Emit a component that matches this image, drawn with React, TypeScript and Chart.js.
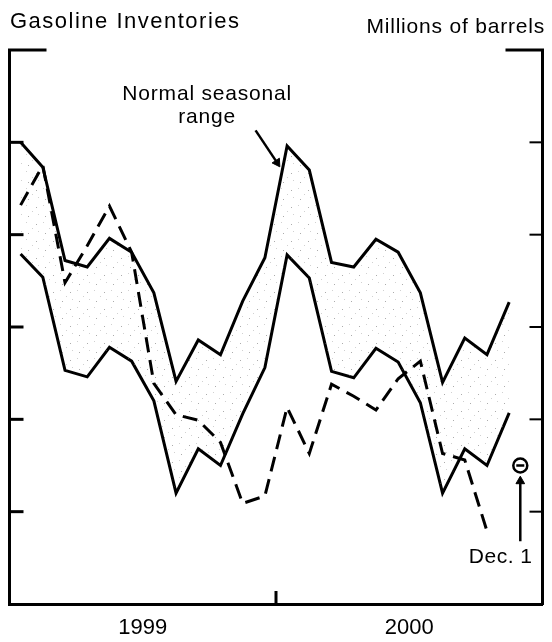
import React, { useEffect, useRef } from 'react';
import { Chart, registerables } from 'chart.js';

Chart.register(...registerables);

// ---- Data (millions of barrels; monthly, mid-month positions) ----
const monthLabels = [
  'Jan 1999', 'Feb 1999', 'Mar 1999', 'Apr 1999', 'May 1999', 'Jun 1999',
  'Jul 1999', 'Aug 1999', 'Sep 1999', 'Oct 1999', 'Nov 1999', 'Dec 1999',
  'Jan 2000', 'Feb 2000', 'Mar 2000', 'Apr 2000', 'May 2000', 'Jun 2000',
  'Jul 2000', 'Aug 2000', 'Sep 2000', 'Oct 2000', 'Nov 2000',
];
const upperRange = [
  230.0, 227.3, 217.2, 216.5, 219.6, 218.1, 213.7, 204.1, 208.6, 207.0, 212.8, 217.5,
  229.6, 227.0, 217.0, 216.5, 219.5, 218.1, 213.7, 204.0, 208.8, 207.0, 212.7,
];
const lowerRange = [
  217.9, 215.4, 205.3, 204.6, 207.8, 206.3, 202.0, 192.0, 196.8, 195.0, 200.6, 205.6,
  217.8, 215.3, 205.2, 204.5, 207.7, 206.2, 201.8, 192.0, 196.8, 195.0, 200.7,
];
const actualStocks = [
  223.2, 227.5, 214.8, 218.8, 223.1, 218.1, 203.9, 200.5, 199.9, 197.5, 190.9, 191.7,
  201.3, 196.3, 203.8, 202.5, 201.0, 204.4, 206.3, 196.3, 195.6, 187.9,
];
const yearLabels = ['1999', '2000'];
const yearCenters = [6, 18];
const yearBoundary = 12;
const yMin = 180;
const yMax = 240;
const yStep = 10;
const xMax = 24;

// Dec. 1 marker (months since Jan 1999, value)
const decPoint = { x: 23, y: 195.0 };
const decArrow = [{ x: 23, y: 186.8 }, { x: 23, y: 193.3 }];
const decLabel = { text: 'Dec. 1', x: 23.55, y: 184.4 };
// "Normal seasonal range" annotation
const rangeArrow = [{ x: 11.08, y: 231.3 }, { x: 12.05, y: 227.8 }];
const rangeLabel = { lines: ['Normal seasonal', 'range'], x: 8.9, y: [234.6, 232.1] };

const titleText = 'Gasoline Inventories';
const unitText = 'Millions of barrels';

const FONT = '"Liberation Sans", Arial, Helvetica, sans-serif';

function makeStipple(): CanvasPattern | string {
  const c = document.createElement('canvas');
  c.width = 17;
  c.height = 17;
  const g = c.getContext('2d');
  if (!g) return 'rgba(0,0,0,0.02)';
  g.fillStyle = 'rgba(90,90,90,0.5)';
  g.fillRect(2, 3, 1, 1);
  g.fillRect(11, 12, 1, 1);
  g.fillStyle = 'rgba(140,140,140,0.4)';
  g.fillRect(9, 1, 1, 1);
  g.fillRect(4, 10, 1, 1);
  g.fillRect(15, 7, 1, 1);
  const p = g.createPattern(c, 'repeat');
  return p || 'rgba(0,0,0,0.02)';
}

const decorPlugin = {
  id: 'decor',
  afterDraw(chart: any) {
    const { ctx, chartArea: a, scales } = chart;
    const xs = scales.x;
    const ys = scales.y;
    ctx.save();
    ctx.strokeStyle = '#000';
    ctx.lineCap = 'butt';
    const line = (x1: number, y1: number, x2: number, y2: number, w: number) => {
      ctx.lineWidth = w;
      ctx.beginPath();
      ctx.moveTo(x1, y1);
      ctx.lineTo(x2, y2);
      ctx.stroke();
    };
    // inward tick marks on both vertical axes
    ys.ticks.forEach((t: any) => {
      if (t.value > yMin && t.value < yMax) {
        const py = ys.getPixelForValue(t.value);
        line(a.left, py, a.left + 14, py, 3);
        line(a.right - 13, py, a.right, py, 2);
      }
    });
    // top corner brackets
    const ty = ys.getPixelForValue(yMax);
    line(a.left - 1.5, ty, a.left + 37, ty, 3);
    line(a.right - 37, ty, a.right + 1.5, ty, 3);
    // year boundary tick
    const bx = xs.getPixelForValue(yearBoundary);
    line(bx, a.bottom, bx, a.bottom - 13, 3);

    // texts
    ctx.fillStyle = '#000';
    ctx.textBaseline = 'alphabetic';
    (ctx as any).letterSpacing = '1.5px';
    ctx.font = `22px ${FONT}`;
    ctx.textAlign = 'left';
    ctx.fillText(titleText, 10, 28);

    (ctx as any).letterSpacing = '0.8px';
    ctx.font = `21px ${FONT}`;
    ctx.textAlign = 'right';
    ctx.fillText(unitText, 545, 33);

    ctx.textAlign = 'center';
    const rx = xs.getPixelForValue(rangeLabel.x);
    rangeLabel.lines.forEach((s, i) => {
      ctx.fillText(s, rx, ys.getPixelForValue(rangeLabel.y[i]));
    });

    (ctx as any).letterSpacing = '0.5px';
    ctx.font = `21px ${FONT}`;
    ctx.textAlign = 'right';
    ctx.fillText(decLabel.text, xs.getPixelForValue(decLabel.x), ys.getPixelForValue(decLabel.y));
    ctx.restore();
  },
};

export default function App() {
  const ref = useRef<HTMLCanvasElement | null>(null);

  useEffect(() => {
    if (!ref.current) return;
    Chart.defaults.font.family = FONT;
    const stipple = makeStipple();
    const toXY = (arr: number[]) => arr.map((v, i) => ({ x: i + 0.5, y: v }));
    const solid = {
      borderColor: '#000',
      borderWidth: 3,
      pointRadius: 0,
      tension: 0,
      borderJoinStyle: 'miter' as const,
    };
    const vAxis = (position: string) => ({
      type: 'linear',
      min: yMin,
      max: yMax,
      position,
      ticks: { display: false, stepSize: yStep },
      grid: { display: false, drawTicks: false, tickLength: 0 },
      border: { display: true, color: '#000', width: 3 },
      afterFit: (s: any) => {
        s.width = 0;
        s.paddingTop = 0;
        s.paddingBottom = 0;
      },
    });
    const chart = new Chart(ref.current, {
      type: 'line',
      data: {
        labels: monthLabels,
        datasets: [
          { label: 'Dec1 minus', data: [decPoint], showLine: false, pointStyle: 'line', pointRadius: 4, pointBorderWidth: 2.5, pointBorderColor: '#000', order: 0 },
          { label: 'Dec1 circle', data: [decPoint], showLine: false, pointStyle: 'circle', pointRadius: 7, pointBorderWidth: 2.5, pointBorderColor: '#000', pointBackgroundColor: '#fff', order: 1 },
          { label: 'Dec1 arrow', data: decArrow, borderColor: '#000', borderWidth: 2.5, pointRadius: [0, 5], pointStyle: 'triangle', pointRotation: 0, pointBackgroundColor: '#000', pointBorderColor: '#000', pointBorderWidth: 1, order: 2 },
          { label: 'Range arrow', data: rangeArrow, borderColor: '#000', borderWidth: 2.5, pointRadius: [0, 5], pointStyle: 'triangle', pointRotation: 147, pointBackgroundColor: '#000', pointBorderColor: '#000', pointBorderWidth: 1, order: 3 },
          { label: 'Actual', data: toXY(actualStocks), ...solid, borderDash: [15, 8], fill: false, order: 4 },
          { label: 'Upper', data: toXY(upperRange), ...solid, fill: '+1', backgroundColor: stipple as any, order: 5 },
          { label: 'Lower', data: toXY(lowerRange), ...solid, fill: false, order: 6 },
        ] as any,
      },
      options: {
        animation: false,
        responsive: false,
        layout: { padding: { left: 9, right: 7, top: 50, bottom: 0 } },
        plugins: { legend: { display: false }, tooltip: { enabled: false }, title: { display: false } },
        scales: {
          x: {
            type: 'linear',
            min: 0,
            max: xMax,
            position: 'bottom',
            afterBuildTicks: (s: any) => {
              s.ticks = yearCenters.map((v) => ({ value: v }));
            },
            afterFit: (s: any) => {
              s.height = 38;
              s.paddingLeft = 0;
              s.paddingRight = 0;
            },
            ticks: {
              autoSkip: false,
              maxRotation: 0,
              padding: 11,
              color: '#000',
              font: { family: FONT, size: 22 },
              callback: (v: any) => {
                const i = yearCenters.indexOf(Number(v));
                return i >= 0 ? yearLabels[i] : '';
              },
            },
            grid: { display: false, drawTicks: false, tickLength: 0 },
            border: { display: true, color: '#000', width: 3 },
          },
          y: vAxis('left'),
          y2: vAxis('right'),
        },
      } as any,
      plugins: [decorPlugin],
    });
    return () => chart.destroy();
  }, []);

  return (
    <div style={{ position: 'fixed', left: 0, top: 0, width: 552, height: 642, background: '#fff' }}>
      <canvas ref={ref} width={552} height={642} style={{ display: 'block' }} />
    </div>
  );
}
